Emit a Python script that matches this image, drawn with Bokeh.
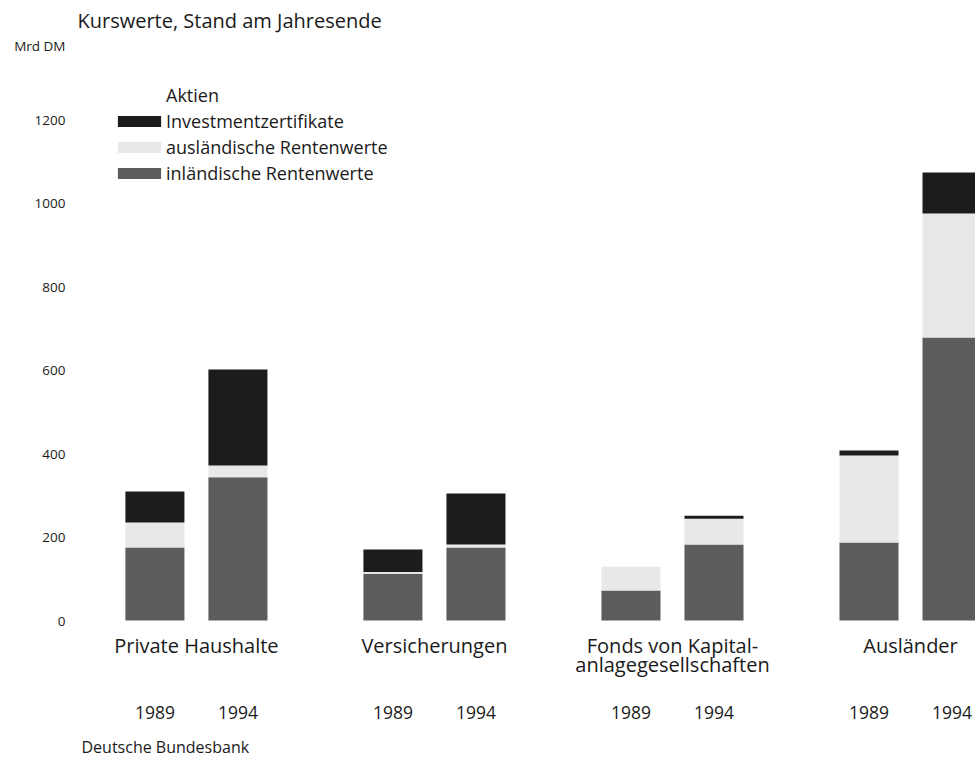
from bokeh.plotting import figure
from bokeh.models import Range1d, FixedTicker, Legend, LegendItem, ColumnDataSource, Label
from bokeh.transform import dodge
from bokeh.core.properties import value
from bokeh.embed import file_html
from bokeh.resources import INLINE

# ---------------- data (Mrd DM, Kurswerte am Jahresende) ----------------
groups = ["Private Haushalte", "Versicherungen", "Fonds von Kapital-\nanlagegesellschaften", "Ausländer"]
years = ["1989", "1994"]
inland_1989 = [175, 112, 72, 187]
inland_1994 = [343, 175, 182, 678]
ausland_1989 = [60, 4, 57, 208]
ausland_1994 = [28, 7, 62, 297]
invest_1989 = [74, 54, 0, 12]
invest_1994 = [230, 122, 7, 98]
series = ["inländische Rentenwerte", "ausländische Rentenwerte", "Investmentzertifikate"]
y_ticks = [0, 200, 400, 600, 800, 1000, 1200]
unit_label = "Mrd DM"

# ---------------- styling ----------------
COL_IN, COL_AUS, COL_INV = "#5c5c5c", "#e8e8e8", "#1c1c1c"
TXT = "#1a1a1a"
FONT = "Open Sans"

W, H = 975, 757
LEFT = 75
X0, X1 = -0.508, 3.273
BASE, SCALE = 620.0, 0.4175
Y0, Y1 = (BASE - H) / SCALE, BASE / SCALE
DODGE = 0.1744
BAR_W = 0.248


def X(px):  # canvas pixel -> x data (annotation placement only)
    return X0 + (px - LEFT) / 238.0


def Y(py):  # canvas pixel -> y data (annotation placement only)
    return (BASE - py) / SCALE


p = figure(width=W, height=H, output_backend="svg", toolbar_location=None,
           x_range=Range1d(X0, X1), y_range=Range1d(Y0, Y1),
           x_axis_location=None, min_border_left=LEFT, min_border_right=0,
           min_border_top=0, min_border_bottom=0)
p.outline_line_color = None
p.grid.visible = False
p.background_fill_color = "white"
p.border_fill_color = "white"

# y axis; the unit caption "Mrd DM" sits at the top of the axis column
unit_pos = round(Y(45))
ax = p.yaxis[0]
ax.ticker = FixedTicker(ticks=y_ticks + [unit_pos])
ax.major_label_overrides = {unit_pos: unit_label}
ax.axis_line_color = None
ax.major_tick_line_color = None
ax.minor_tick_line_color = None
ax.major_label_standoff = 4
ax.major_label_text_font = FONT
ax.major_label_text_font_size = "13.5px"
ax.major_label_text_color = TXT

gidx = list(range(len(groups)))
src89 = ColumnDataSource(dict(g=gidx, **{series[0]: inland_1989, series[1]: ausland_1989, series[2]: invest_1989}))
src94 = ColumnDataSource(dict(g=gidx, **{series[0]: inland_1994, series[1]: ausland_1994, series[2]: invest_1994}))

r89 = p.vbar_stack(series, x=dodge("g", -DODGE), width=BAR_W, color=[COL_IN, COL_AUS, COL_INV],
                   line_color=None, source=src89)
r94 = p.vbar_stack(series, x=dodge("g", DODGE), width=BAR_W, color=[COL_IN, COL_AUS, COL_INV],
                   line_color=None, source=src94)

# Aktien: legend entry only (no visible swatch in the original)
akt = p.vbar(x=[], top=[], width=BAR_W, fill_color="white", line_color=None)

legend = Legend(items=[
    LegendItem(label="Aktien", renderers=[akt]),
    LegendItem(label="Investmentzertifikate", renderers=[r89[2]]),
    LegendItem(label="ausländische Rentenwerte", renderers=[r89[1]]),
    LegendItem(label="inländische Rentenwerte", renderers=[r89[0]]),
], location=(37, 571), glyph_width=54, glyph_height=14, label_height=26, spacing=0,
    padding=0, margin=0, label_standoff=0, border_line_color=None, background_fill_alpha=0,
    label_text_font=FONT, label_text_font_size="18px", label_text_color=TXT)
p.add_layout(legend)

# group labels
p.text(x="g", y=Y(631), text="name", source=ColumnDataSource(dict(g=gidx, name=groups)),
       text_align="center", text_baseline="top", text_font=value(FONT), text_font_size="20px",
       text_color=TXT, text_line_height=0.74)

# year labels
for yr, off in zip(years, [-DODGE, DODGE]):
    p.text(x=dodge("g", off), y=Y(712), text="yr",
           source=ColumnDataSource(dict(g=gidx, yr=[yr] * len(gidx))),
           text_align="center", text_baseline="middle", text_font=value(FONT),
           text_font_size="17.5px", text_color=TXT)

p.add_layout(Label(x=X(77), y=Y(20), text="Kurswerte, Stand am Jahresende", text_font=FONT,
                   text_font_size="20px", text_color=TXT, text_baseline="middle"))
p.add_layout(Label(x=X(81), y=Y(746), text="Deutsche Bundesbank", text_font=FONT,
                   text_font_size="16px", text_color=TXT, text_baseline="middle"))

open("out.html", "w").write(file_html(p, INLINE))
